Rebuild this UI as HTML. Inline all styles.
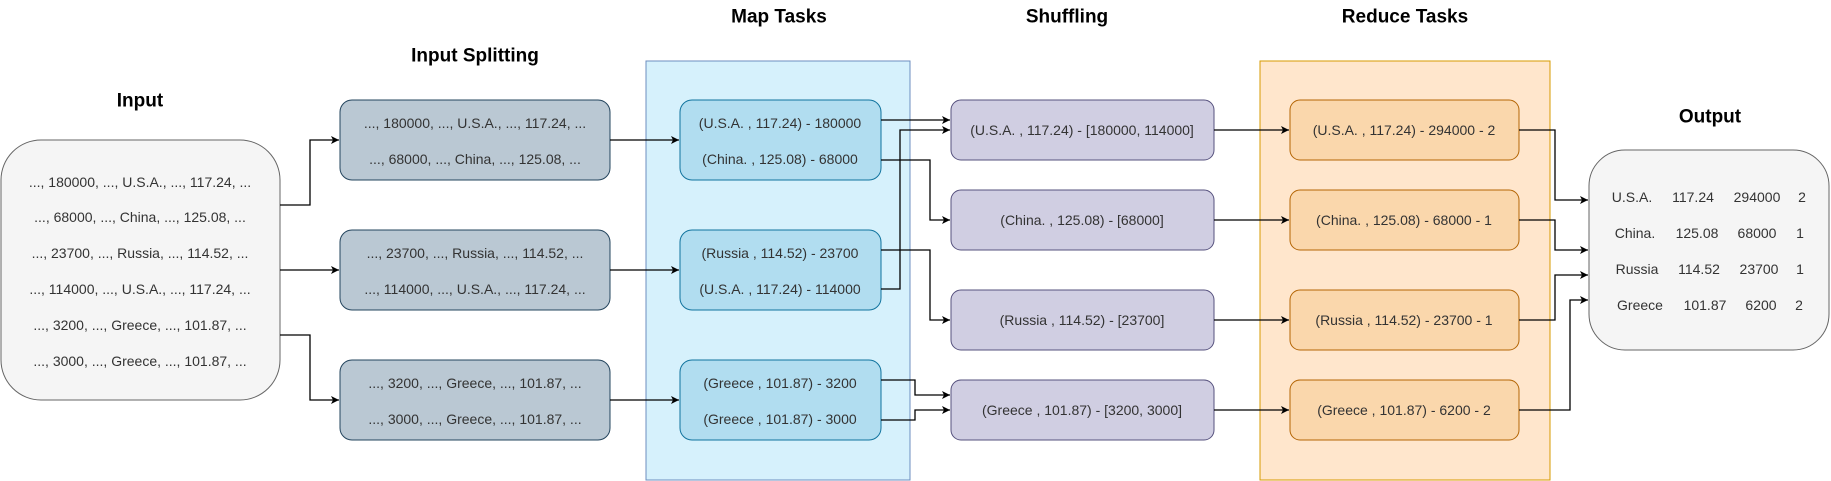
<!DOCTYPE html>
<html><head><meta charset="utf-8"><style>
html,body{margin:0;padding:0;background:#fff;}
svg{display:block;font-family:"Liberation Sans",Arial,sans-serif;}
.t{font-size:14px;fill:#333;text-anchor:middle;dominant-baseline:central;}
.h{font-size:19px;font-weight:bold;fill:#000;text-anchor:middle;dominant-baseline:central;}
.c{fill:none;stroke:#000;stroke-width:1.3;}
</style></head><body>
<svg width="1831" height="481" viewBox="0 0 1831 481" xmlns="http://www.w3.org/2000/svg">
<defs><marker id="a" markerWidth="10" markerHeight="10" refX="9" refY="5" orient="auto" markerUnits="userSpaceOnUse"><path d="M1,1 L9,5 L1,9 L3,5 Z" fill="#000"/></marker></defs>
<!-- containers -->
<rect x="646" y="61" width="264" height="419" fill="#d6f1fc" stroke="#6c8ebf"/>
<rect x="1260" y="61" width="290" height="419" fill="#ffe6cc" stroke="#d79b00"/>
<!-- titles -->
<text class="h" x="140" y="101">Input</text>
<text class="h" x="475" y="56">Input Splitting</text>
<text class="h" x="779" y="17">Map Tasks</text>
<text class="h" x="1067" y="17">Shuffling</text>
<text class="h" x="1405" y="17">Reduce Tasks</text>
<text class="h" x="1710" y="117">Output</text>
<!-- input -->
<rect x="1" y="140" width="279" height="260" rx="40" fill="#f5f5f5" stroke="#666"/>
<g class="t" fill="#333">
<text class="t" x="140" y="182">..., 180000, ..., U.S.A., ..., 117.24, ...</text>
<text class="t" x="140" y="217">..., 68000, ..., China, ..., 125.08, ...</text>
<text class="t" x="140" y="253">..., 23700, ..., Russia, ..., 114.52, ...</text>
<text class="t" x="140" y="289">..., 114000, ..., U.S.A., ..., 117.24, ...</text>
<text class="t" x="140" y="325">..., 3200, ..., Greece, ..., 101.87, ...</text>
<text class="t" x="140" y="361">..., 3000, ..., Greece, ..., 101.87, ...</text>
</g>
<!-- split -->
<rect x="340" y="100" width="270" height="80" rx="12" fill="#bac8d3" stroke="#23445d"/>
<rect x="340" y="230" width="270" height="80" rx="12" fill="#bac8d3" stroke="#23445d"/>
<rect x="340" y="360" width="270" height="80" rx="12" fill="#bac8d3" stroke="#23445d"/>
<text class="t" x="475" y="123">..., 180000, ..., U.S.A., ..., 117.24, ...</text>
<text class="t" x="475" y="159">..., 68000, ..., China, ..., 125.08, ...</text>
<text class="t" x="475" y="253">..., 23700, ..., Russia, ..., 114.52, ...</text>
<text class="t" x="475" y="289">..., 114000, ..., U.S.A., ..., 117.24, ...</text>
<text class="t" x="475" y="383">..., 3200, ..., Greece, ..., 101.87, ...</text>
<text class="t" x="475" y="419">..., 3000, ..., Greece, ..., 101.87, ...</text>
<!-- map -->
<rect x="680" y="100" width="201" height="80" rx="12" fill="#b1ddf0" stroke="#10739e"/>
<rect x="680" y="230" width="201" height="80" rx="12" fill="#b1ddf0" stroke="#10739e"/>
<rect x="680" y="360" width="201" height="80" rx="12" fill="#b1ddf0" stroke="#10739e"/>
<text class="t" x="780" y="123">(U.S.A. , 117.24) - 180000</text>
<text class="t" x="780" y="159">(China. , 125.08) - 68000</text>
<text class="t" x="780" y="253">(Russia , 114.52) - 23700</text>
<text class="t" x="780" y="289">(U.S.A. , 117.24) - 114000</text>
<text class="t" x="780" y="383">(Greece , 101.87) - 3200</text>
<text class="t" x="780" y="419">(Greece , 101.87) - 3000</text>
<!-- shuffle -->
<rect x="951" y="100" width="263" height="60" rx="10" fill="#d0cee2" stroke="#56517e"/>
<rect x="951" y="190" width="263" height="60" rx="10" fill="#d0cee2" stroke="#56517e"/>
<rect x="951" y="290" width="263" height="60" rx="10" fill="#d0cee2" stroke="#56517e"/>
<rect x="951" y="380" width="263" height="60" rx="10" fill="#d0cee2" stroke="#56517e"/>
<text class="t" x="1082" y="130">(U.S.A. , 117.24) - [180000, 114000]</text>
<text class="t" x="1082" y="220">(China. , 125.08) - [68000]</text>
<text class="t" x="1082" y="320">(Russia , 114.52) - [23700]</text>
<text class="t" x="1082" y="410">(Greece , 101.87) - [3200, 3000]</text>
<!-- reduce -->
<rect x="1290" y="100" width="229" height="60" rx="10" fill="#fad7ac" stroke="#b46504"/>
<rect x="1290" y="190" width="229" height="60" rx="10" fill="#fad7ac" stroke="#b46504"/>
<rect x="1290" y="290" width="229" height="60" rx="10" fill="#fad7ac" stroke="#b46504"/>
<rect x="1290" y="380" width="229" height="60" rx="10" fill="#fad7ac" stroke="#b46504"/>
<text class="t" x="1404" y="130">(U.S.A. , 117.24) - 294000 - 2</text>
<text class="t" x="1404" y="220">(China. , 125.08) - 68000 - 1</text>
<text class="t" x="1404" y="320">(Russia , 114.52) - 23700 - 1</text>
<text class="t" x="1404" y="410">(Greece , 101.87) - 6200 - 2</text>
<!-- output -->
<rect x="1589" y="150" width="240" height="200" rx="36" fill="#f5f5f5" stroke="#666"/>
<g>
<text class="t" x="1632" y="197">U.S.A.</text><text class="t" x="1693" y="197">117.24</text><text class="t" x="1757" y="197">294000</text><text class="t" x="1802" y="197">2</text>
<text class="t" x="1635" y="233">China.</text><text class="t" x="1697" y="233">125.08</text><text class="t" x="1757" y="233">68000</text><text class="t" x="1800" y="233">1</text>
<text class="t" x="1637" y="269">Russia</text><text class="t" x="1699" y="269">114.52</text><text class="t" x="1759" y="269">23700</text><text class="t" x="1800" y="269">1</text>
<text class="t" x="1640" y="305">Greece</text><text class="t" x="1705" y="305">101.87</text><text class="t" x="1761" y="305">6200</text><text class="t" x="1799" y="305">2</text>
</g>
<!-- connectors -->
<g class="c" marker-end="url(#a)">
<path d="M280,205 H310 V140 H339"/>
<path d="M280,270 H339"/>
<path d="M280,335 H310 V400 H339"/>
<path d="M610,140 H679"/>
<path d="M610,270 H679"/>
<path d="M610,400 H679"/>
<path d="M881,120 H950"/>
<path d="M881,289 H900 V130 H950"/>
<path d="M881,160 H930 V220 H950"/>
<path d="M881,250 H930 V320 H950"/>
<path d="M881,380 H915 V395 H950"/>
<path d="M881,420 H915 V410 H950"/>
<path d="M1214,130 H1289"/>
<path d="M1214,220 H1289"/>
<path d="M1214,320 H1289"/>
<path d="M1214,410 H1289"/>
<path d="M1519,130 H1555 V200 H1588"/>
<path d="M1519,220 H1555 V250 H1588"/>
<path d="M1519,320 H1555 V275 H1588"/>
<path d="M1519,410 H1570 V300 H1588"/>
</g>
</svg>
</body></html>
